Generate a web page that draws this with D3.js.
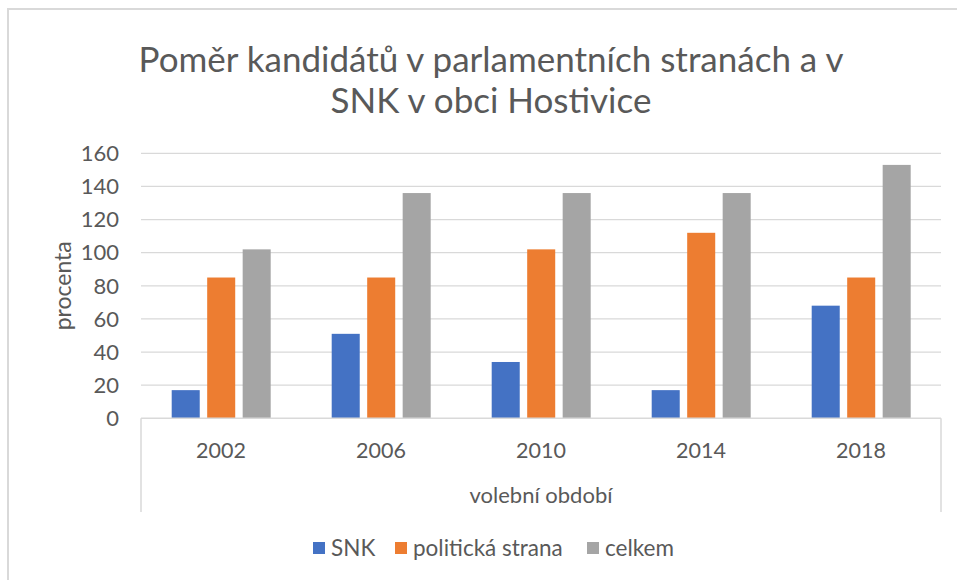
<!DOCTYPE html>
<html>
<head>
<meta charset="utf-8">
<script src="https://cdn.jsdelivr.net/npm/d3@7"></script>
<style>
  body { margin: 0; background: #fff; }
  svg text { font-family: Lato, "Open Sans", sans-serif; fill: #595959; }
</style>
</head>
<body>
<svg id="chart" width="957" height="580"></svg>
<script>
const years = ["2002", "2006", "2010", "2014", "2018"];
const seriesNames = ["SNK", "politická strana", "celkem"];
const snk = [17, 51, 34, 17, 68];
const strana = [85, 85, 102, 112, 85];
const celkem = [102, 136, 136, 136, 153];
const yTicks = [0, 20, 40, 60, 80, 100, 120, 140, 160];
const colors = ["#4472c4", "#ed7d31", "#a5a5a5"];

const svg = d3.select("#chart");

// chart border
svg.append("rect")
  .attr("x", 8).attr("y", 9)
  .attr("width", 960).attr("height", 580)
  .attr("fill", "none")
  .attr("stroke", "#d9d9d9")
  .attr("stroke-width", 2);

// title
svg.append("text")
  .attr("x", 491).attr("y", 72)
  .attr("text-anchor", "middle")
  .attr("font-size", "35px")
  .text("Poměr kandidátů v parlamentních stranách a v");
svg.append("text")
  .attr("x", 491).attr("y", 113)
  .attr("text-anchor", "middle")
  .attr("font-size", "35px")
  .text("SNK v obci Hostivice");

const plotLeft = 141, plotRight = 941, plotTop = 153.3, plotBottom = 418.3;

const x = d3.scaleBand().domain(years).range([plotLeft, plotRight]);
const y = d3.scaleLinear().domain([0, 160]).range([plotBottom, plotTop]);
const xInner = d3.scaleBand().domain(seriesNames)
  .range([30.7, 160 - 30.3]).paddingInner(0.21);

// gridlines
svg.append("g")
  .selectAll("line")
  .data(yTicks.filter(d => d > 0))
  .enter().append("line")
  .attr("x1", plotLeft).attr("x2", plotRight)
  .attr("y1", d => y(d)).attr("y2", d => y(d))
  .attr("stroke", "#d9d9d9")
  .attr("stroke-width", 1.3);

// y labels
svg.append("g")
  .selectAll("text")
  .data(yTicks)
  .enter().append("text")
  .attr("x", 119)
  .attr("y", d => y(d))
  .attr("dy", "0.35em")
  .attr("text-anchor", "end")
  .attr("font-size", "22px")
  .text(d => d);

// bars
const data = [snk, strana, celkem];
data.forEach(function(vals, si) {
  svg.append("g")
    .attr("fill", colors[si])
    .selectAll("rect")
    .data(vals)
    .enter().append("rect")
    .attr("x", (d, i) => x(years[i]) + xInner(seriesNames[si]))
    .attr("y", d => y(d))
    .attr("width", xInner.bandwidth())
    .attr("height", d => plotBottom - y(d));
});

// category axis lines
const axisColor = "#d9d9d9";
svg.append("line")
  .attr("x1", plotLeft).attr("x2", plotRight)
  .attr("y1", plotBottom).attr("y2", plotBottom)
  .attr("stroke", axisColor).attr("stroke-width", 1.5);
svg.append("line")
  .attr("x1", plotLeft).attr("x2", plotLeft)
  .attr("y1", plotBottom).attr("y2", 512)
  .attr("stroke", axisColor).attr("stroke-width", 1.5);
svg.append("line")
  .attr("x1", plotRight).attr("x2", plotRight)
  .attr("y1", plotBottom).attr("y2", 512)
  .attr("stroke", axisColor).attr("stroke-width", 1.5);

// x labels
svg.append("g")
  .selectAll("text")
  .data(years)
  .enter().append("text")
  .attr("x", d => x(d) + x.bandwidth() / 2)
  .attr("y", 450)
  .attr("dy", "0.35em")
  .attr("text-anchor", "middle")
  .attr("font-size", "21.5px")
  .text(d => d);

// axis titles
svg.append("text")
  .attr("x", 541).attr("y", 495)
  .attr("dy", "0.35em")
  .attr("text-anchor", "middle")
  .attr("font-size", "22px")
  .text("volební období");

svg.append("text")
  .attr("transform", "translate(63," + ((plotTop + plotBottom) / 2) + ") rotate(-90)")
  .attr("dy", "0.35em")
  .attr("text-anchor", "middle")
  .attr("font-size", "23px")
  .text("procenta");

// legend
const legendX = [313, 395, 587];
const legend = svg.append("g");
seriesNames.forEach(function(name, i) {
  legend.append("rect")
    .attr("x", legendX[i]).attr("y", 542)
    .attr("width", 12).attr("height", 12)
    .attr("fill", colors[i]);
  legend.append("text")
    .attr("x", legendX[i] + 18).attr("y", 548)
    .attr("dy", "0.35em")
    .attr("font-size", "22.5px")
    .text(name);
});
</script>
</body>
</html>
